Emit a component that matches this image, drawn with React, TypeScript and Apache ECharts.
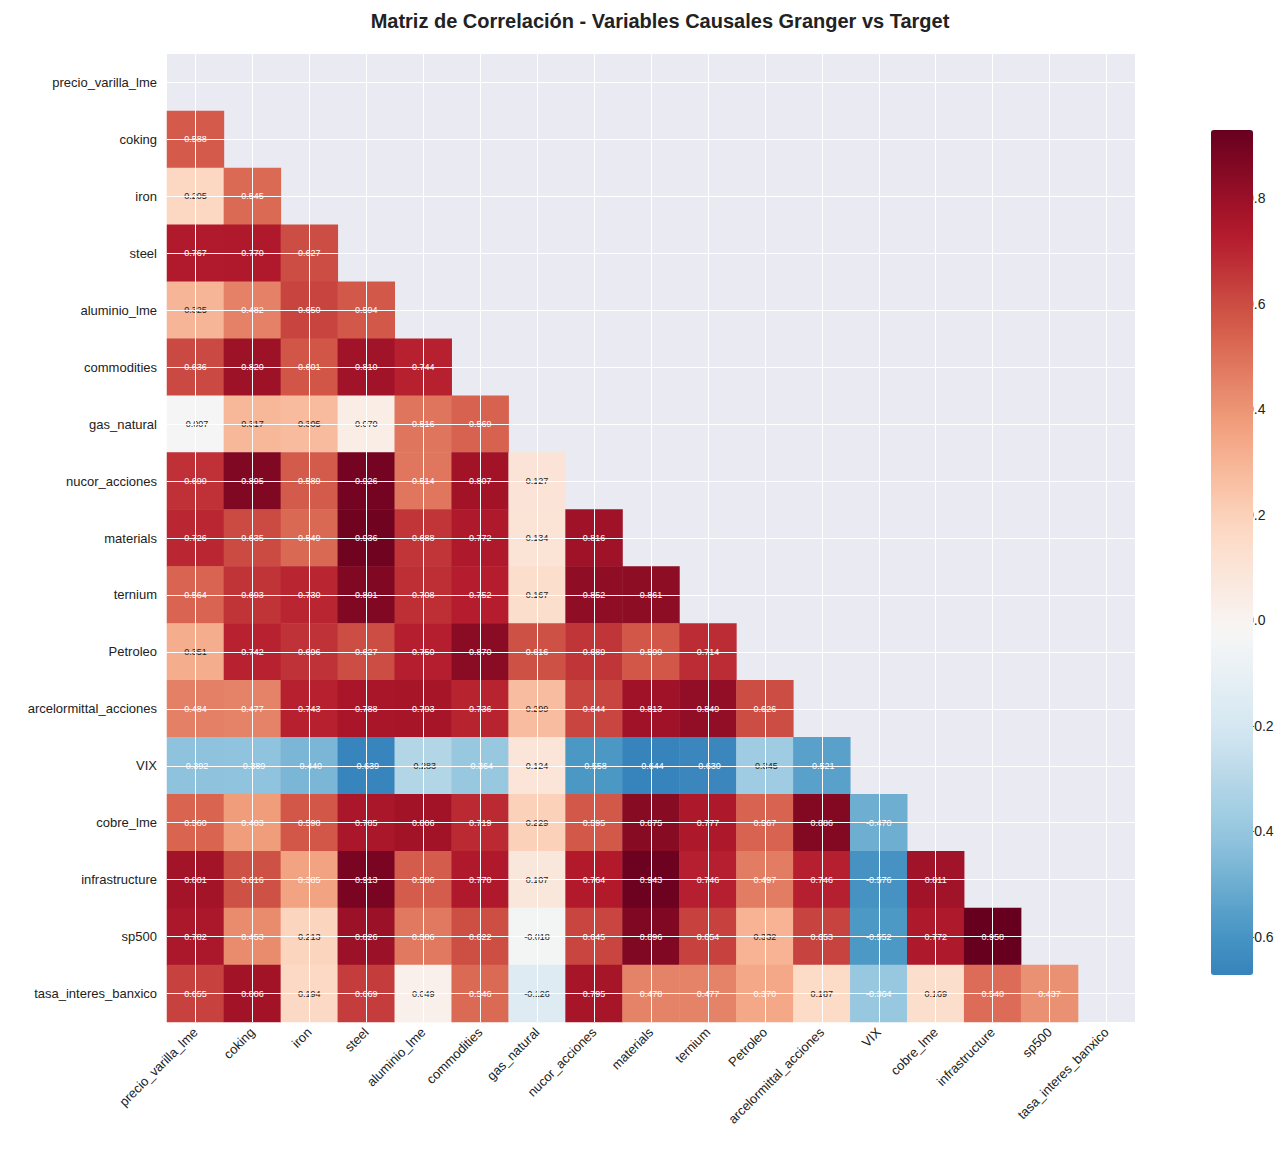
import React, { useEffect, useRef } from "react";
import * as echarts from "echarts";

const variables = [
  "precio_varilla_lme", "coking", "iron", "steel", "aluminio_lme", "commodities",
  "gas_natural", "nucor_acciones", "materials", "ternium", "Petroleo",
  "arcelormittal_acciones", "VIX", "cobre_lme", "infrastructure", "sp500",
  "tasa_interes_banxico",
];

// lower triangle, row i holds correlations with columns 0..i-1
const lowerRows: number[][] = [
  [],
  [0.588],
  [0.205, 0.545],
  [0.767, 0.77, 0.627],
  [0.325, 0.482, 0.65, 0.594],
  [0.636, 0.82, 0.601, 0.81, 0.744],
  [-0.007, 0.317, 0.305, 0.07, 0.516, 0.569],
  [0.699, 0.895, 0.589, 0.926, 0.514, 0.807, 0.127],
  [0.726, 0.635, 0.549, 0.936, 0.688, 0.772, 0.134, 0.816],
  [0.564, 0.693, 0.73, 0.891, 0.708, 0.752, 0.167, 0.852, 0.861],
  [0.351, 0.742, 0.696, 0.627, 0.75, 0.87, 0.616, 0.689, 0.599, 0.714],
  [0.484, 0.477, 0.743, 0.788, 0.793, 0.736, 0.299, 0.644, 0.813, 0.849, 0.626],
  [-0.392, -0.389, -0.44, -0.639, -0.283, -0.364, 0.124, -0.558, -0.644, -0.63, -0.345, -0.521],
  [0.56, 0.403, 0.598, 0.785, 0.806, 0.719, 0.229, 0.595, 0.875, 0.777, 0.567, 0.886, -0.47],
  [0.801, 0.616, 0.385, 0.913, 0.586, 0.77, 0.107, 0.764, 0.943, 0.746, 0.497, 0.746, -0.576, 0.811],
  [0.782, 0.453, 0.213, 0.826, 0.506, 0.622, -0.018, 0.645, 0.896, 0.654, 0.332, 0.653, -0.552, 0.772, 0.958],
  [0.655, 0.806, 0.194, 0.669, 0.049, 0.546, -0.126, 0.795, 0.478, 0.477, 0.37, 0.187, -0.364, 0.169, 0.54, 0.437],
];

const colorbarTicks = [-0.6, -0.4, -0.2, 0, 0.2, 0.4, 0.6, 0.8];
const vMin = -0.644;
const vMax = 0.958;

// RdBu_r stops, centred on 0
const rdbu = ["#053061", "#2166ac", "#4393c3", "#92c5de", "#d1e5f0", "#f7f7f7",
  "#fddbc7", "#f4a582", "#d6604d", "#b2182b", "#67001f"];

function hex(c: string) {
  return [1, 3, 5].map((i) => parseInt(c.slice(i, i + 2), 16));
}
function colorAt(v: number) {
  const t = (v / vMax + 1) / 2 * 10;
  const i = Math.max(0, Math.min(9, Math.floor(t)));
  const f = t - i;
  const a = hex(rdbu[i]), b = hex(rdbu[i + 1]);
  const m = a.map((x, k) => Math.round(x + (b[k] - x) * f));
  return `rgb(${m.join(",")})`;
}
const rampColors = Array.from({ length: 33 }, (_, k) => colorAt(vMin + (vMax - vMin) * k / 32));

const App = () => {
  const ref = useRef<HTMLDivElement>(null);

  useEffect(() => {
    if (!ref.current) return;
    document.body.style.margin = "0";
    const chart = echarts.init(ref.current, undefined, { renderer: "svg" });

    const cells: any[] = [];
    lowerRows.forEach((row, i) =>
      row.forEach((v, j) => {
        cells.push({
          value: [j, i, v],
          label: { color: Math.abs(v) > 0.36 ? "#fff" : "#222" },
        });
      })
    );

    const cbTop = 115, cbBottom = 960, cbLeft = 1196, cbWidth = 42;
    const yOf = (v: number) => cbBottom - (v - vMin) / (vMax - vMin) * (cbBottom - cbTop);
    const graphics: any[] = [];
    colorbarTicks.forEach((t) => {
      graphics.push({
        type: "line",
        shape: { x1: cbLeft + cbWidth, y1: yOf(t), x2: cbLeft + cbWidth + 4, y2: yOf(t) },
        style: { stroke: "#333", lineWidth: 1 },
      });
      graphics.push({
        type: "text",
        x: cbLeft + cbWidth + 8,
        y: yOf(t),
        style: {
          text: t.toFixed(1).replace("-", "\u2212"),
          font: "14px 'Liberation Sans', Arial, sans-serif",
          fill: "#222",
          textVerticalAlign: "middle",
        },
      });
    });

    const font = "'Liberation Sans', Arial, sans-serif";

    chart.setOption({
      animation: false,
      backgroundColor: "#fff",
      title: {
        text: "Matriz de Correlación - Variables Causales Granger vs Target",
        left: 655,
        textAlign: "center",
        top: 6,
        textStyle: { fontSize: 20, fontWeight: "bold", fontFamily: font, color: "#222" },
      },
      grid: { left: 167, right: 147, top: 54, bottom: 132, backgroundColor: "#eaeaf2", show: true, borderWidth: 0 },
      xAxis: {
        type: "category",
        data: variables,
        axisLine: { show: false },
        axisTick: { show: false },
        splitLine: { show: false },
        axisLabel: { rotate: 45, fontSize: 13, fontFamily: font, color: "#222", interval: 0, margin: 8 },
      },
      yAxis: {
        type: "category",
        data: variables,
        inverse: true,
        axisLine: { show: false },
        axisTick: { show: false },
        splitLine: { show: false },
        axisLabel: { fontSize: 13, fontFamily: font, color: "#222", interval: 0, margin: 10 },
      },
      visualMap: {
        type: "continuous",
        min: vMin,
        max: vMax,
        dimension: 2,
        seriesIndex: 1,
        calculable: false,
        left: cbLeft,
        top: cbTop,
        itemWidth: cbWidth,
        itemHeight: cbBottom - cbTop,
        text: ["", ""],
        inRange: { color: rampColors },
      },
      graphic: graphics,
      series: [
        {
          type: "line",
          data: [],
          silent: true,
          z: 1,
          markLine: {
            silent: true,
            symbol: "none",
            label: { show: false },
            lineStyle: { color: "#fff", width: 1, type: "solid" },
            data: [
              ...variables.map((v) => ({ xAxis: v })),
              ...variables.map((v) => ({ yAxis: v })),
            ],
          },
        },
        {
          type: "heatmap",
          z: 2,
          data: cells,
          label: {
            show: true,
            fontSize: 9,
            fontFamily: font,
            formatter: (p: any) => p.value[2].toFixed(3),
          },
          itemStyle: { borderWidth: 0 },
        },
      ],
    });

    return () => chart.dispose();
  }, []);

  return <div ref={ref} style={{ width: 1282, height: 1154 }} />;
};

export default App;
